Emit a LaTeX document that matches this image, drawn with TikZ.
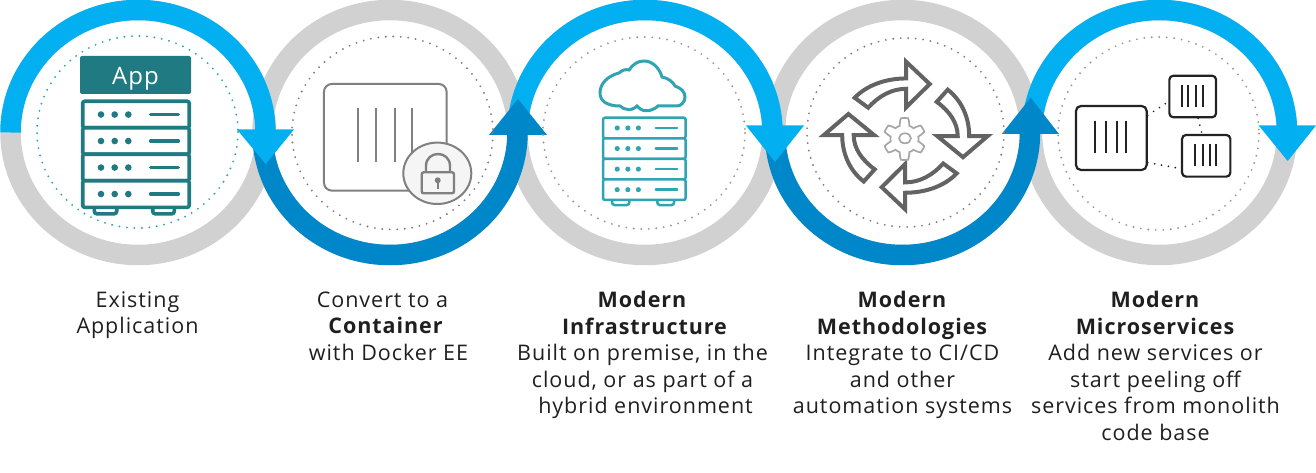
\documentclass[tikz,border=0pt]{standalone}
\usepackage{fontspec}
\setmainfont[LetterSpace=4.5]{Open Sans}
\usetikzlibrary{shapes.geometric}

\definecolor{lightblue}{HTML}{02B0F2}
\definecolor{darkblue}{HTML}{0087C9}
\definecolor{ringgray}{HTML}{D1D1D1}
\definecolor{tealdark}{HTML}{1F7A82}
\definecolor{teallight}{HTML}{2FA4B2}
\definecolor{icongray}{HTML}{808080}
\definecolor{arrowgray}{HTML}{636363}
\definecolor{boxblack}{HTML}{222222}

\tikzset{
	ringline/.style={line width=20.5pt,x radius=127.5,y radius=122.5},
	dotring/.style={line width=2.1pt,line cap=round,dash pattern=on 0pt off 7.5pt},
	steplabel/.style={align=center,anchor=north,text=black!88,font=\fontsize{21.5}{26.5}\selectfont},
	iconbox/.style={draw=boxblack,line width=2.2pt,rounded corners=4pt,inner sep=0pt},
	linkdots/.style={draw=boxblack,line width=1.9pt,line cap=round,dash pattern=on 0pt off 7pt},
}

% one rack, #1 #2 = top left, #3 = scale, #4 = colour, #5 = line width
\newcommand{\serverrack}[5]{
	\begin{scope}[shift={(#1,#2)},scale=#3,color=#4,line width=#5]
		\draw[rounded corners=2.5pt,fill=white] (11.6,104) rectangle (34,112.5);
		\draw[rounded corners=2.5pt,fill=white] (70,104) rectangle (91.6,112.5);
		\foreach \row in {0,1,2,3} {
			\draw[rounded corners=2pt,fill=white] (0,\row*26.5) rectangle ++(106.5,26.5);
			\foreach \dx in {18.3,32,45.6}
				\fill (\dx,\row*26.5+13.25) circle (3.3);
			\draw[line cap=round] (68,\row*26.5+13.25) -- (95.6,\row*26.5+13.25);
		}
	\end{scope}
}

% four vertical slats of a container
\newcommand{\slats}[8]{
	\foreach \sx in {#1,#2,#3,#4}
		\draw[#8,line width=#7] (\sx,#5) -- (\sx,#6);
}

\begin{document}
\begin{tikzpicture}[x=1pt,y=1pt,yscale=-1]
	\useasboundingbox (0,0) rectangle (1316,473);

	% gray rings
	\foreach \cx in {138,390,645,902.5,1159.5}
		\draw[ringgray,line width=20.5pt] (\cx,132.5) ellipse [x radius=127.5,y radius=122.5];

	% blue half rings and their heads
	\draw[lightblue,ringline] (10.5,132.5) arc [start angle=180,end angle=360];
	\draw[darkblue,ringline] (262.5,132.5) arc [start angle=180,end angle=0];
	\fill[lightblue] (237,129.5) -- (294,129.5) -- (265.7,164) -- cycle;
	\draw[lightblue,ringline] (517.5,132.5) arc [start angle=180,end angle=360];
	\fill[darkblue] (489,135) -- (547,135) -- (518,99) -- cycle;
	\draw[darkblue,ringline] (775,132.5) arc [start angle=180,end angle=0];
	\fill[lightblue] (746,125.5) -- (804,125.5) -- (775,162) -- cycle;
	\draw[lightblue,ringline] (1032,132.5) arc [start angle=180,end angle=360];
	\fill[darkblue] (1001.7,134) -- (1059,134) -- (1030.7,97.7) -- cycle;
	\fill[lightblue] (1258.7,125.5) -- (1316,125.5) -- (1287.7,161) -- cycle;

	% dotted inner rings
	\draw[teallight,dotring] (137.5,132) ellipse [x radius=100.5,y radius=96];
	\draw[icongray,dotring] (392.5,133) ellipse [x radius=100.5,y radius=96.5];
	\draw[icongray!80,dotring] (644,133) ellipse [x radius=101,y radius=96];
	\draw[icongray,dotring] (905.5,132.5) ellipse [x radius=98.5,y radius=94.5];
	\draw[icongray!80,dotring] (1158.5,133.5) ellipse [x radius=100.5,y radius=96.5];

	% existing application
	\node[fill=tealdark,rounded corners=2pt,text=white,minimum width=111pt,minimum height=38pt,inner sep=0pt,text height=24pt,text depth=4pt,font=\fontsize{24}{30}\selectfont] (app) at (135.5,75) {App};
	\serverrack{82.7}{101.3}{1}{tealdark}{3.6pt}

	% container with lock
	\node[draw=icongray,line width=2pt,rounded corners=8pt,minimum width=122.7pt,minimum height=106.7pt,inner sep=0pt] (container) at (385.3,137.3) {};
	\slats{358.3}{376}{394.7}{412}{108}{162}{1.8pt}{icongray}
	\node[ellipse,draw=icongray,fill=black!4,line width=2pt,minimum width=68pt,minimum height=61.4pt,inner sep=0pt] (lock) at (437.3,173.3) {};
	\draw[icongray,line width=2.4pt] (426,172.3) -- (426,166) .. controls (426,150) and (450,150) .. (450,166) -- (450,172.3);
	\draw[icongray,line width=2.4pt,rounded corners=2pt] (421.7,172.3) rectangle (454,193.3);
	\fill[icongray] (437.7,180.3) circle (3);
	\draw[icongray,line width=2pt] (437.7,180.3) -- (437.7,188.7);

	% cloud and rack
	\draw[teallight,line width=3pt] (620,106) .. controls (607,106) and (600,101) .. (600,93)
		.. controls (600,83) and (608,76) .. (619,73)
		.. controls (622,70) and (626,69) .. (629,70)
		.. controls (633,64) and (638,61) .. (644,61)
		.. controls (652,61) and (659,67) .. (662,77)
		.. controls (668,78) and (673,82) .. (675,86)
		.. controls (681,88) and (685,92) .. (685,97)
		.. controls (685,102) and (681,106) .. (677,106)
		-- (658,106)
		.. controls (655,109) and (650,111) .. (646,110.7)
		.. controls (642,111) and (639,108) .. (637,106)
		.. controls (634,109) and (630,110) .. (628,109.5)
		.. controls (625,109.5) and (622,108) .. (620,106) -- cycle;
	\serverrack{603}{117.7}{.776}{teallight}{2.5pt}

	% four arrows round a gear
	\foreach \k in {0,1,2,3}
		\draw[arrowgray,line width=4pt,shift={(905.7,135.6)},yscale=.9,rotate=\k*90]
			(-51,-42) .. controls (-39,-56) and (-20,-63.5) .. (.5,-63.5) -- (.5,-82) -- (24,-57.3) -- (.5,-31.5) -- (.5,-52)
			.. controls (-14,-52) and (-27,-44) .. (-37.5,-31) -- cycle;
	\draw[black!35,line width=1.7pt] plot[domain=0:360,samples=145,smooth] ({904.5+(17.5+3.5*max(-1,min(1,2*cos(6*\x+180))))*cos(\x)},{139+(17.5+3.5*max(-1,min(1,2*cos(6*\x+180))))*sin(\x)}) -- cycle;
	\draw[black!35,line width=1.7pt] (905,138.3) ellipse [x radius=6,y radius=5];

	% microservices
	\node[iconbox,rounded corners=5pt,minimum width=70.7pt,minimum height=64pt] (big) at (1111.3,138) {};
	\node[iconbox,minimum width=46.7pt,minimum height=41.6pt] (upper) at (1192.7,96.5) {};
	\node[iconbox,minimum width=48.3pt,minimum height=41.7pt] (lower) at (1206.2,155.8) {};
	\slats{1095}{1106.3}{1116.7}{1126.3}{120.7}{153.3}{2.2pt}{boxblack}
	\slats{1182.3}{1188.3}{1195.7}{1203}{85}{106.7}{1.9pt}{boxblack}
	\slats{1195.3}{1202.7}{1209.7}{1216}{144}{165.7}{1.9pt}{boxblack}
	\draw[linkdots] (big.32) -- (upper.192);
	\draw[linkdots] (big.-34) -- (lower.207);
	\draw[linkdots] (upper.-76) -- (lower.101);

	% labels
	\node[steplabel] (existing) at (137.5,288) {Existing\\Application};
	\node[steplabel] (convert) at (386,288) {Convert to a\hspace*{7pt}\\\textbf{Container}\\\hspace*{5pt}with Docker EE};
	\node[steplabel] (infra) at (642.5,288) {\textbf{Modern}\\\hspace*{5pt}\textbf{Infrastructure}\\Built on premise, in the\\cloud, or as part of a\\\hspace*{6pt}hybrid environment};
	\node[steplabel] (method) at (902.5,288) {\textbf{Modern}\\\textbf{Methodologies}\\Integrate to CI/CD\\and other\\automation systems};
	\node[steplabel] (micro) at (1155.5,288) {\textbf{Modern}\\\textbf{Microservices}\\Add new services or\\start peeling off\\services from monolith\\code base};
\end{tikzpicture}
\end{document}
